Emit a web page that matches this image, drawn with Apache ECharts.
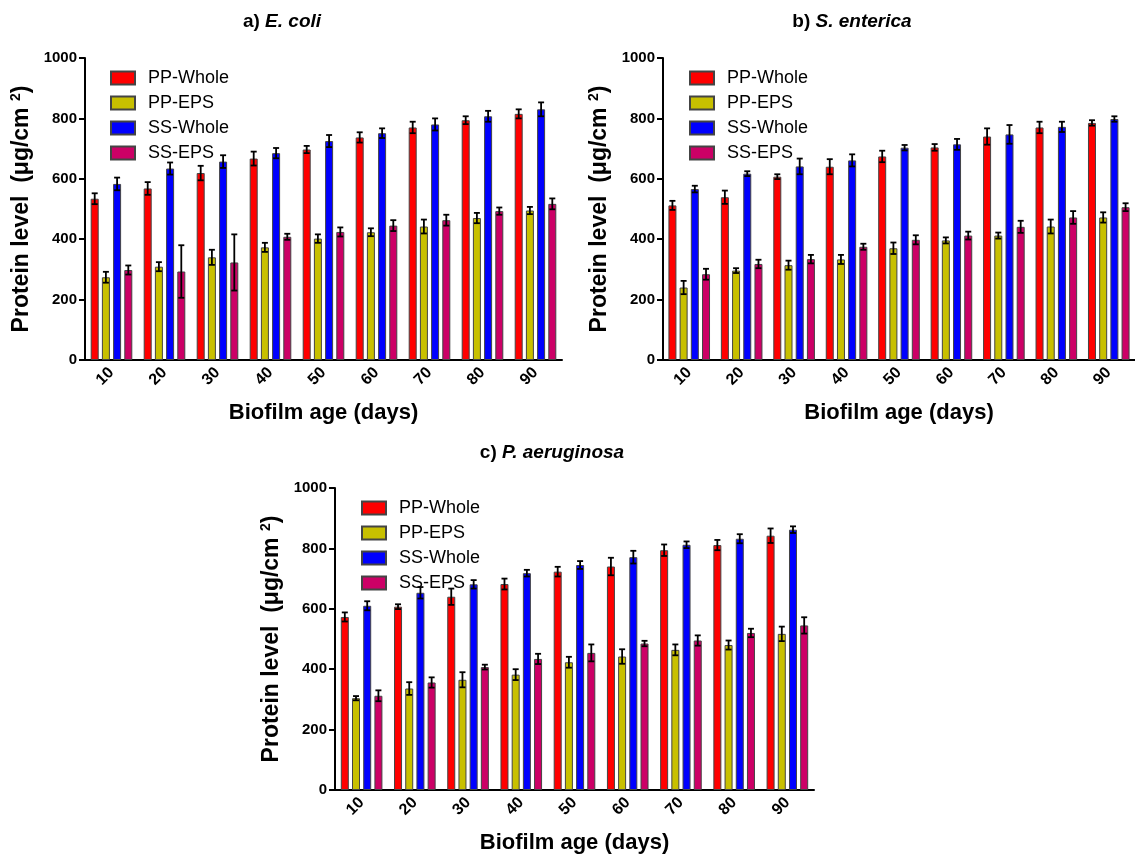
<!DOCTYPE html>
<html>
<head>
<meta charset="utf-8">
<script src="https://cdn.jsdelivr.net/npm/echarts@6/dist/echarts.min.js"></script>
<style>
  html, body { margin: 0; padding: 0; background: #fff; }
  #main { width: 1135px; height: 855px; }
</style>
</head>
<body>
<div id="main"></div>
<script>
// biofilm age, x categories
var days = ['10', '20', '30', '40', '50', '60', '70', '80', '90'];
var seriesNames = ['PP-Whole', 'PP-EPS', 'SS-Whole', 'SS-EPS'];
var yTicks = [0, 200, 400, 600, 800, 1000];

// a) E. coli  (mean, error)
var ecPPWhole = [534, 568, 619, 667, 697, 737, 770, 794, 815];
var ecPPWholeErr = [18, 21, 24, 23, 12, 17, 19, 13, 15];
var ecPPEps = [274, 309, 340, 373, 402, 423, 442, 470, 495];
var ecPPEpsErr = [18, 15, 25, 15, 14, 13, 23, 17, 12];
var ecSSWhole = [583, 634, 657, 685, 725, 751, 780, 807, 830];
var ecSSWholeErr = [21, 20, 21, 17, 20, 16, 20, 18, 23];
var ecSSEps = [298, 293, 323, 408, 424, 445, 463, 493, 517];
var ecSSEpsErr = [15, 87, 93, 10, 15, 18, 18, 12, 18];

// b) S. enterica
var sePPWhole = [512, 539, 607, 640, 674, 704, 740, 770, 785];
var sePPWholeErr = [15, 22, 8, 25, 19, 11, 27, 19, 9];
var sePPEps = [240, 296, 314, 333, 370, 396, 412, 442, 472];
var sePPEpsErr = [22, 8, 15, 15, 19, 10, 10, 23, 17];
var seSSWhole = [566, 617, 641, 661, 703, 714, 747, 772, 798];
var seSSWholeErr = [11, 8, 26, 20, 9, 18, 31, 17, 9];
var seSSEps = [284, 318, 334, 375, 398, 412, 441, 472, 506];
var seSSEpsErr = [18, 14, 14, 10, 15, 13, 20, 21, 13];

// c) P. aeruginosa
var paPPWhole = [573, 607, 640, 682, 723, 740, 794, 811, 842];
var paPPWholeErr = [15, 8, 27, 18, 16, 29, 19, 17, 24];
var paPPEps = [304, 336, 365, 382, 423, 442, 464, 480, 517];
var paPPEpsErr = [7, 21, 25, 18, 18, 24, 18, 15, 24];
var paSSWhole = [610, 653, 681, 718, 745, 771, 812, 832, 862];
var paSSWholeErr = [15, 19, 14, 11, 13, 21, 11, 15, 11];
var paSSEps = [312, 356, 407, 434, 454, 485, 495, 520, 545];
var paSSEpsErr = [18, 17, 8, 17, 28, 9, 17, 14, 27];

var colors = ['#ff0000', '#c8c000', '#0000ff', '#cc0066'];
var font = "'Liberation Sans', Arial, sans-serif";
var barW = 8;
var barGap = 0.4;
var pitch = barW * (1 + barGap);

var panels = [
  { label: 'a) ', species: 'E. coli', cx: 282, cy: 22, grid: { left: 85, top: 58, width: 477, height: 302 }, legend: { left: 110, top: 69 },
    means: [ecPPWhole, ecPPEps, ecSSWhole, ecSSEps], errs: [ecPPWholeErr, ecPPEpsErr, ecSSWholeErr, ecSSEpsErr] },
  { label: 'b) ', species: 'S. enterica', cx: 852, cy: 22, grid: { left: 663, top: 58, width: 477, height: 302 }, legend: { left: 689, top: 69 },
    means: [sePPWhole, sePPEps, seSSWhole, seSSEps], errs: [sePPWholeErr, sePPEpsErr, seSSWholeErr, seSSEpsErr] },
  { label: 'c) ', species: 'P. aeruginosa', cx: 552, cy: 453, grid: { left: 335, top: 488, width: 479, height: 302 }, legend: { left: 361, top: 499 },
    means: [paPPWhole, paPPEps, paSSWhole, paSSEps], errs: [paPPWholeErr, paPPEpsErr, paSSWholeErr, paSSEpsErr] }
];

function errorBar(k) {
  return function (params, api) {
    var i = api.value(0), v = api.value(1), e = api.value(2);
    var hi = api.coord([i, v + e]);
    var lo = api.coord([i, v - e]);
    var x = hi[0] + (k - 1.5) * pitch;
    var st = { stroke: '#000', lineWidth: 1.8 };
    return {
      type: 'group',
      children: [
        { type: 'line', shape: { x1: x, y1: hi[1], x2: x, y2: lo[1] }, style: st },
        { type: 'line', shape: { x1: x - 3, y1: hi[1], x2: x + 3, y2: hi[1] }, style: st },
        { type: 'line', shape: { x1: x - 3, y1: lo[1], x2: x + 3, y2: lo[1] }, style: st }
      ]
    };
  };
}

var grids = [], xAxes = [], yAxes = [], legends = [], series = [], graphics = [];

panels.forEach(function (p, g) {
  grids.push(p.grid);
  xAxes.push({
    type: 'category', gridIndex: g, data: days,
    name: 'Biofilm age (days)', nameLocation: 'middle', nameGap: 42,
    nameTextStyle: { fontFamily: font, fontWeight: 'bold', fontSize: 22, color: '#000' },
    axisLine: { lineStyle: { color: '#000', width: 2 } },
    axisTick: { alignWithLabel: true, length: 6, lineStyle: { color: '#000', width: 2 } },
    axisLabel: { rotate: 45, margin: 10, fontFamily: font, fontWeight: 'bold', fontSize: 16, color: '#000' }
  });
  yAxes.push({
    type: 'value', gridIndex: g, min: yTicks[0], max: yTicks[yTicks.length - 1], interval: 200,
    name: 'Protein level  (\u03bcg/cm {sup|2})', nameLocation: 'middle', nameGap: 50, nameRotate: 90,
    nameTextStyle: {
      fontFamily: font, fontWeight: 'bold', fontSize: 23, color: '#000',
      rich: { sup: { fontFamily: font, fontWeight: 'bold', fontSize: 14, color: '#000', padding: [0, 0, 12, 0] } }
    },
    axisLine: { show: true, lineStyle: { color: '#000', width: 2 } },
    axisTick: { show: true, length: 6, lineStyle: { color: '#000', width: 2 } },
    axisLabel: { margin: 8, fontFamily: font, fontWeight: 'bold', fontSize: 15, color: '#000',
      formatter: function (v) { return String(v); } },
    splitLine: { show: false }
  });
  legends.push({
    data: seriesNames, orient: 'vertical', left: p.legend.left, top: p.legend.top,
    padding: 0, icon: 'rect',
    itemWidth: 24, itemHeight: 13, itemGap: 7,
    textStyle: { fontFamily: font, fontSize: 18, color: '#000', padding: [0, 0, 0, 8] }
  });
  seriesNames.forEach(function (name, k) {
    series.push({
      name: name, type: 'bar', xAxisIndex: g, yAxisIndex: g,
      barWidth: barW, barGap: (barGap * 100) + '%',
      itemStyle: { color: colors[k], borderColor: '#444', borderWidth: 1 },
      data: p.means[k]
    });
  });
  seriesNames.forEach(function (name, k) {
    series.push({
      type: 'custom', xAxisIndex: g, yAxisIndex: g, z: 5,
      renderItem: errorBar(k),
      encode: { x: 0, y: 1 },
      data: p.means[k].map(function (v, i) { return [i, v, p.errs[k][i]]; })
    });
  });
  graphics.push({
    type: 'text', x: p.cx, y: p.cy,
    style: {
      text: '{n|' + p.label + '}{i|' + p.species + '}',
      align: 'center', verticalAlign: 'middle',
      rich: {
        n: { fontFamily: font, fontWeight: 'bold', fontSize: 19, fill: '#000' },
        i: { fontFamily: font, fontWeight: 'bold', fontStyle: 'italic', fontSize: 19, fill: '#000' }
      }
    }
  });
});

var chart = echarts.init(document.getElementById('main'));
chart.setOption({
  animation: false,
  backgroundColor: '#fff',
  grid: grids,
  xAxis: xAxes,
  yAxis: yAxes,
  legend: legends,
  graphic: graphics,
  series: series
});
</script>
</body>
</html>
